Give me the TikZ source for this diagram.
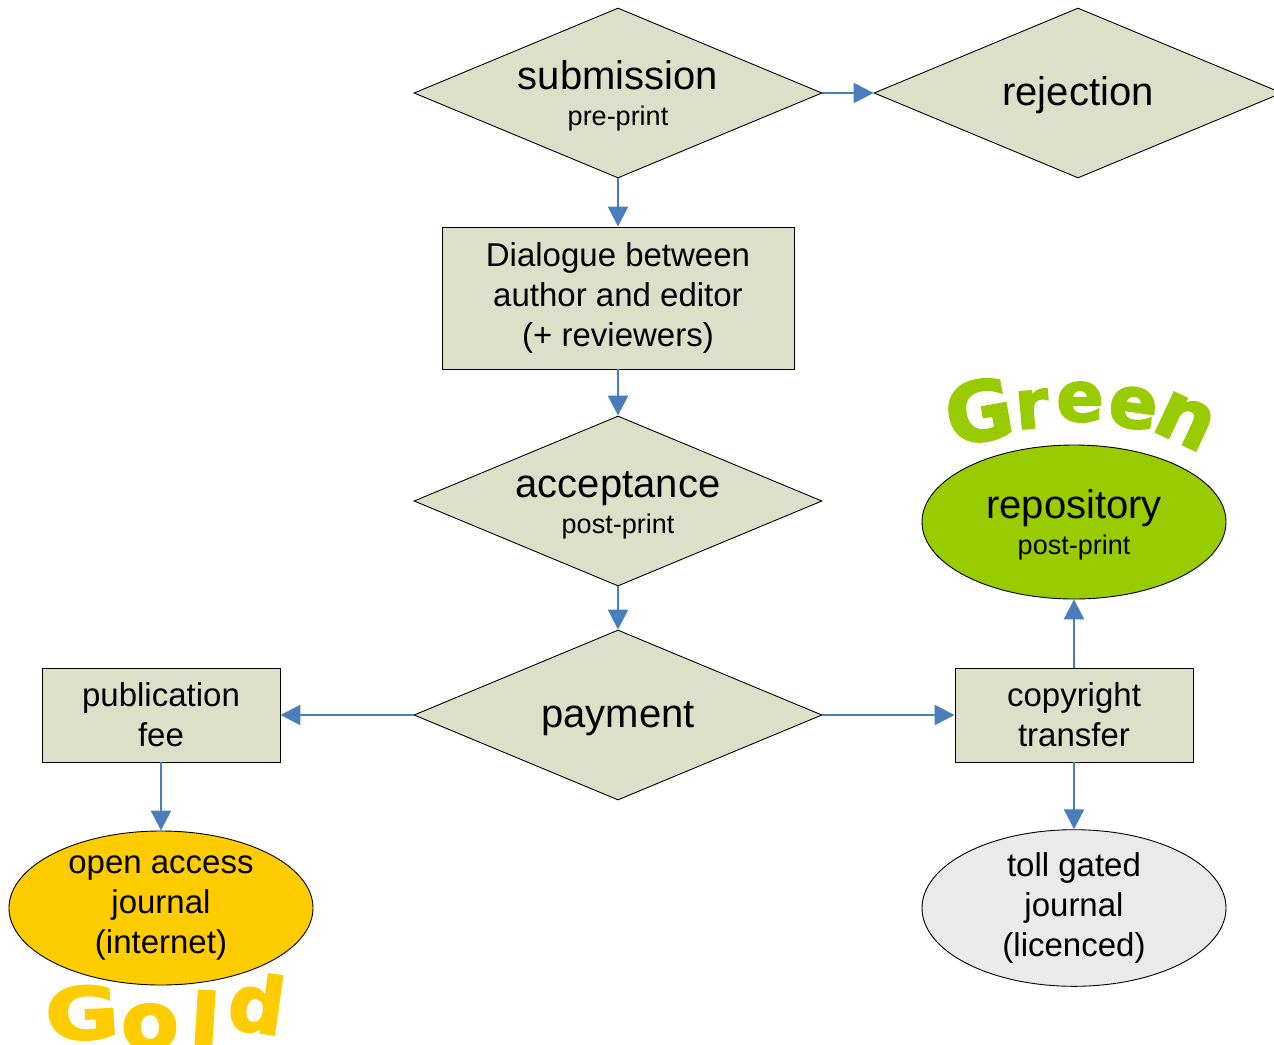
\documentclass[tikz,border=0pt]{standalone}
\usepackage{fontspec}
\setmainfont{Liberation Sans}
\newfontfamily\wordart{DejaVu Sans}[BoldFeatures={FakeBold=2.5}]
\usetikzlibrary{shapes.geometric,arrows.meta}
\definecolor{boxfill}{RGB}{221,224,201}
\definecolor{arrowblue}{RGB}{74,126,187}
\definecolor{greenfill}{RGB}{153,204,0}
\definecolor{goldfill}{RGB}{255,204,0}
\definecolor{tollfill}{RGB}{234,234,234}
\tikzset{
  diam/.style={diamond, draw=black, line width=0.9pt, fill=boxfill, minimum width=408pt, minimum height=170pt, inner sep=0pt, aspect=2.4},
  rbox/.style={rectangle, draw=black, line width=0.9pt, fill=boxfill, inner sep=0pt, align=center, font=\fontsize{33}{40}\selectfont},
  oval/.style={ellipse, draw=black, line width=0.9pt, minimum width=304pt, minimum height=154pt, inner sep=0pt, align=center, font=\fontsize{33}{40}\selectfont},
  bigtxt/.style={anchor=base, inner sep=0pt, font=\fontsize{40}{48}\selectfont},
  smalltxt/.style={anchor=base, inner sep=0pt, font=\fontsize{27}{32}\selectfont},
  flow/.style={draw=arrowblue, line width=2.5pt, -{Triangle[length=20pt,width=20pt]}},
  wa/.style={inner sep=0pt, anchor=center},
}
\begin{document}
\begin{tikzpicture}[x=1pt,y=-1pt]
\useasboundingbox (0,0) rectangle (1274,1044);
\clip (0,0) rectangle (1274,1044);

% shapes
\node[diam] (sub) at (618,93) {};
\node[diam] (rej) at (1078,93) {};
\node[rbox, minimum width=352pt, minimum height=142pt] (dia) at (618,298) {Dialogue between\\author and editor\\(+ reviewers)};
\node[diam] (acc) at (618,501) {};
\node[diam] (pay) at (618,715) {};
\node[rbox, minimum width=238pt, minimum height=94pt] (fee) at (161,715) {publication\\fee};
\node[rbox, minimum width=238pt, minimum height=94pt] (copy) at (1074,715) {copyright\\transfer};
\node[oval, fill=greenfill] (repo) at (1074,522) {};
\node[oval, fill=goldfill] (oa) at (161,908) {open access\\journal\\(internet)};
\node[oval, fill=tollfill] (toll) at (1074,908) {toll gated\\journal\\(licenced)};

% texts in shapes
\node[bigtxt] (subt) at (618,89) {submission};
\node[smalltxt] (subs) at (618,125) {pre-print};
\node[bigtxt] (rejt) at (1078,105) {rejection};
\node[bigtxt] (acct) at (618,497) {acceptance};
\node[smalltxt] (accs) at (618,533) {post-print};
\node[bigtxt] (payt) at (618,727) {payment};
\node[bigtxt] (repot) at (1074,518) {repository};
\node[smalltxt] (repos) at (1074,554) {post-print};

% connectors
\draw[flow] (sub.east) -- (rej.west);
\draw[flow] (sub.south) -- (dia.north);
\draw[flow] (dia.south) -- (acc.north);
\draw[flow] (acc.south) -- (pay.north);
\draw[flow] (pay.west) -- (fee.east);
\draw[flow] (pay.east) -- (copy.west);
\draw[flow] (copy.north) -- (repo.south);
\draw[flow] (copy.south) -- (toll.north);
\draw[flow] (fee.south) -- (oa.north);

% Green word art
\begin{scope}[every node/.style={wa, text=greenfill}]
\node[font=\wordart\bfseries\fontsize{82}{82}\selectfont, rotate=10] (gr1) at (979,411) {G};
\node[font=\wordart\bfseries\fontsize{68}{68}\selectfont, rotate=5] (gr2) at (1032,409) {r};
\node[font=\wordart\bfseries\fontsize{70}{70}\selectfont, rotate=0] (gr3) at (1080,402) {e};
\node[font=\wordart\bfseries\fontsize{72}{72}\selectfont, rotate=-8] (gr4) at (1133,408) {e};
\node[font=\wordart\bfseries\fontsize{80}{80}\selectfont, rotate=-25] (gr5) at (1185,421) {n};
\end{scope}

% Gold word art
\begin{scope}[every node/.style={wa, text=goldfill}]
\node[font=\wordart\bfseries\fontsize{72}{72}\selectfont, xscale=1.25, rotate=3] (go1) at (82,1013) {G};
\node[font=\wordart\bfseries\fontsize{80}{80}\selectfont, xscale=1.05] (go2) at (150,1027) {o};
\node[font=\wordart\bfseries\fontsize{74}{74}\selectfont, xscale=1.2, rotate=-3] (go3) at (205,1019) {l};
\node[font=\wordart\bfseries\fontsize{78}{78}\selectfont, rotate=-8] (go4) at (257,1003) {d};
\end{scope}
\end{tikzpicture}
\end{document}
